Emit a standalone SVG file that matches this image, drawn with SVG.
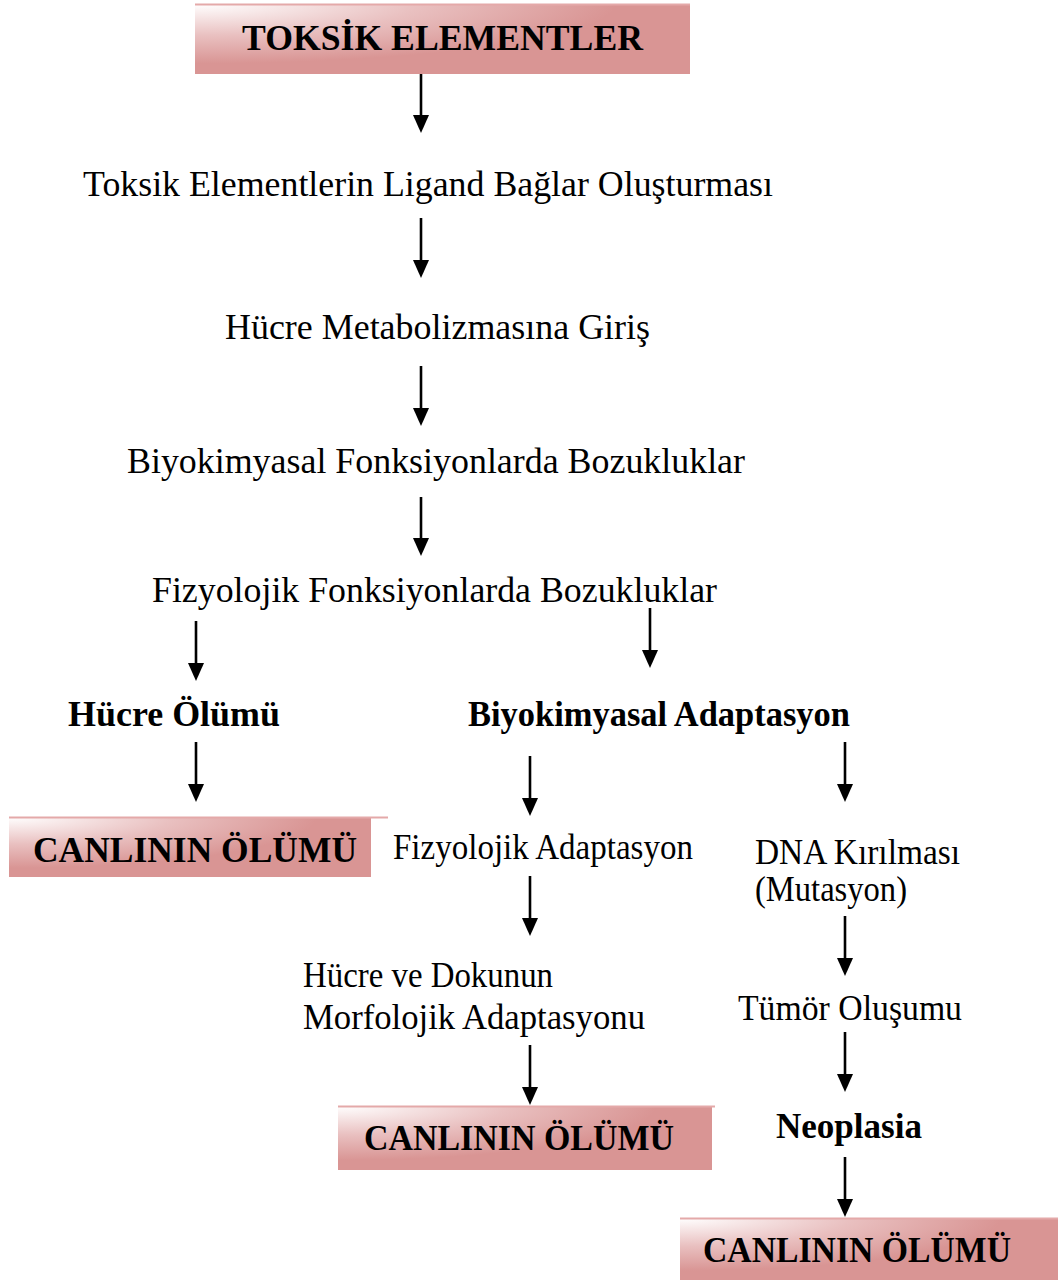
<svg xmlns="http://www.w3.org/2000/svg" width="1058" height="1280" viewBox="0 0 1058 1280">
<style>
  .t { font-family: "Liberation Serif", "Times New Roman", serif; font-size: 36px; fill: #000; }
  .b { font-weight: bold; }
  .box { fill: url(#pinkGrad); }
  .edge { stroke: #E4A9A9; stroke-width: 2; }
  .arrow { stroke: #000; stroke-width: 2.6; fill: none; marker-end: url(#ah); }
</style>
<defs>
  <radialGradient id="pinkGrad" cx="0" cy="0" r="1" fx="0" fy="0">
    <stop offset="0" stop-color="#FFFFFF"/>
    <stop offset="0.45" stop-color="#E9C0C0"/>
    <stop offset="0.85" stop-color="#D99594"/>
    <stop offset="1" stop-color="#D99594"/>
  </radialGradient>
  <marker id="ah" markerUnits="userSpaceOnUse" viewBox="0 0 18 16" refX="8" refY="8" markerWidth="18" markerHeight="16" orient="auto">
    <path d="M0,0 L18,8 L0,16 z" fill="#000"/>
  </marker>
</defs>
<rect width="1058" height="1280" fill="#fff"/>

<g id="connectors">
  <line class="arrow" x1="421" y1="74" x2="421" y2="123"/>
  <line class="arrow" x1="421" y1="218" x2="421" y2="268"/>
  <line class="arrow" x1="421" y1="366" x2="421" y2="416"/>
  <line class="arrow" x1="421" y1="497" x2="421" y2="546"/>
  <line class="arrow" x1="196" y1="621" x2="196" y2="671"/>
  <line class="arrow" x1="650" y1="608" x2="650" y2="658"/>
  <line class="arrow" x1="196" y1="742" x2="196" y2="792"/>
  <line class="arrow" x1="530" y1="756" x2="530" y2="806"/>
  <line class="arrow" x1="845" y1="742" x2="845" y2="792"/>
  <line class="arrow" x1="530" y1="876" x2="530" y2="926"/>
  <line class="arrow" x1="845" y1="916" x2="845" y2="966"/>
  <line class="arrow" x1="530" y1="1045" x2="530" y2="1095"/>
  <line class="arrow" x1="845" y1="1032" x2="845" y2="1082"/>
  <line class="arrow" x1="845" y1="1157" x2="845" y2="1207"/>
</g>

<g id="n-toksik">
  <rect class="box" x="195" y="4" width="495" height="70"/>
  <line class="edge" x1="195" y1="4.5" x2="690" y2="4.5"/>
  <text class="t b" x="242" y="50" textLength="401" lengthAdjust="spacingAndGlyphs">TOKSİK ELEMENTLER</text>
</g>

<g id="n-ligand">
  <text class="t" x="83" y="196" textLength="690" lengthAdjust="spacingAndGlyphs">Toksik Elementlerin Ligand Bağlar Oluşturması</text>
</g>

<g id="n-metabolizma">
  <text class="t" x="225" y="339" textLength="425" lengthAdjust="spacingAndGlyphs">Hücre Metabolizmasına Giriş</text>
</g>

<g id="n-biyokimyasal-bozukluk">
  <text class="t" x="127" y="473" textLength="618" lengthAdjust="spacingAndGlyphs">Biyokimyasal Fonksiyonlarda Bozukluklar</text>
</g>

<g id="n-fizyolojik-bozukluk">
  <text class="t" x="152" y="602" textLength="565" lengthAdjust="spacingAndGlyphs">Fizyolojik Fonksiyonlarda Bozukluklar</text>
</g>

<g id="n-hucre-olumu">
  <text class="t b" x="68" y="726" textLength="212" lengthAdjust="spacingAndGlyphs">Hücre Ölümü</text>
</g>

<g id="n-biyokimyasal-adaptasyon">
  <text class="t b" x="468" y="726" textLength="382" lengthAdjust="spacingAndGlyphs">Biyokimyasal Adaptasyon</text>
</g>

<g id="n-canli-olum-1">
  <rect class="box" x="9" y="817" width="362" height="60"/>
  <line class="edge" x1="9" y1="817.5" x2="388" y2="817.5"/>
  <text class="t b" x="33" y="862" textLength="324" lengthAdjust="spacingAndGlyphs">CANLININ ÖLÜMÜ</text>
</g>

<g id="n-fizyolojik-adaptasyon">
  <text class="t" x="393" y="859" textLength="300" lengthAdjust="spacingAndGlyphs">Fizyolojik Adaptasyon</text>
</g>

<g id="n-dna">
  <text class="t" x="755" y="864" textLength="205" lengthAdjust="spacingAndGlyphs">DNA Kırılması</text>
  <text class="t" x="755" y="901" textLength="152" lengthAdjust="spacingAndGlyphs">(Mutasyon)</text>
</g>

<g id="n-morfolojik">
  <text class="t" x="303" y="987" textLength="250" lengthAdjust="spacingAndGlyphs">Hücre ve Dokunun</text>
  <text class="t" x="303" y="1029" textLength="342" lengthAdjust="spacingAndGlyphs">Morfolojik Adaptasyonu</text>
</g>

<g id="n-tumor">
  <text class="t" x="738" y="1020" textLength="224" lengthAdjust="spacingAndGlyphs">Tümör Oluşumu</text>
</g>

<g id="n-canli-olum-2">
  <rect class="box" x="338" y="1106" width="374" height="64"/>
  <line class="edge" x1="338" y1="1106.5" x2="715" y2="1106.5"/>
  <text class="t b" x="364" y="1150" textLength="310" lengthAdjust="spacingAndGlyphs">CANLININ ÖLÜMÜ</text>
</g>

<g id="n-neoplasia">
  <text class="t b" x="776" y="1138" textLength="146" lengthAdjust="spacingAndGlyphs">Neoplasia</text>
</g>

<g id="n-canli-olum-3">
  <rect class="box" x="680" y="1218" width="378" height="62"/>
  <line class="edge" x1="680" y1="1218.5" x2="1058" y2="1218.5"/>
  <text class="t b" x="703" y="1262" textLength="308" lengthAdjust="spacingAndGlyphs">CANLININ ÖLÜMÜ</text>
</g>
</svg>
